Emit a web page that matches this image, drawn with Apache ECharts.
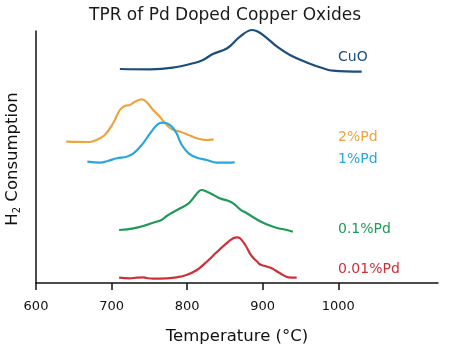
<!DOCTYPE html>
<html>
<head>
<meta charset="utf-8">
<script src="https://cdn.jsdelivr.net/npm/echarts@6/dist/echarts.min.js"></script>
<style>html,body{margin:0;padding:0;background:#fff}#c{width:450px;height:355px}</style>
</head>
<body>
<div id="c"></div>
<script>
var xTicks = [600, 700, 800, 900, 1000];

var cuoT = [711, 751, 781, 808, 821, 834, 853, 870, 886, 894, 906, 919, 936, 959, 980, 993, 1031];
var cuoY = [214, 213.7, 215.3, 219.7, 223, 229, 234.7, 246.3, 253, 251.3, 244.7, 236.3, 228, 220.3, 214.7, 212.3, 211.3];

var pd2T = [640, 671, 680, 691, 702, 711, 718, 724, 731, 740, 746, 755, 764, 771, 780, 791, 802, 813, 826, 835];
var pd2Y = [141.3, 141, 143, 148, 159.7, 173, 177.3, 178, 181.3, 183.7, 181.3, 173, 166.3, 159.7, 153.7, 151.3, 148, 144.7, 143, 143.7];

var pd1T = [668, 685, 696, 707, 720, 729, 740, 751, 760, 766, 773, 780, 786, 793, 802, 813, 826, 839, 852, 863];
var pd1Y = [121.3, 120.3, 122.3, 124.7, 126.3, 129.7, 138, 149.7, 158, 160.3, 159.7, 156.3, 149.7, 138, 129.7, 125.3, 123, 120.3, 120.3, 120.7];

var pd01T = [710, 729, 742, 755, 766, 773, 780, 791, 802, 808, 815, 819, 826, 835, 843, 854, 861, 870, 879, 892, 905, 918, 932, 940];
var pd01Y = [53, 54.7, 57, 60.3, 63, 67, 70.3, 74.7, 79.7, 84.7, 91.3, 93, 91.3, 88, 84.7, 82.3, 79.7, 73.7, 69.7, 63.7, 58.7, 55.3, 53, 51.3];

var pd001T = [710, 724, 733, 742, 746, 755, 773, 786, 799, 813, 826, 839, 852, 861, 866, 870, 877, 883, 888, 892, 896, 903, 912, 923, 934, 945];
var pd001Y = [5.3, 4.7, 5.3, 5.7, 5, 4.3, 4.7, 5.7, 8, 13, 21.3, 30.7, 39.7, 44.7, 45.7, 44.7, 38, 29.7, 24.7, 22, 18.7, 17, 14.7, 9.7, 5.7, 5.3];

var seriesNames = ['CuO', '2%Pd', '1%Pd', '0.1%Pd', '0.01%Pd'];
var colors = ['#1c4e7d', '#eca43f', '#29a7dd', '#1f9a57', '#cf3038'];
var labelY = [58, 138, 160, 230, 270];

function pairs(t, y) { return t.map(function (v, i) { return [v, y[i]]; }); }
var allData = [pairs(cuoT, cuoY), pairs(pd2T, pd2Y), pairs(pd1T, pd1Y), pairs(pd01T, pd01Y), pairs(pd001T, pd001Y)];

var chart = echarts.init(document.getElementById('c'));
var font = 'DejaVu Sans';
chart.setOption({
  animation: false,
  backgroundColor: '#fff',
  title: {
    text: 'TPR of Pd Doped Copper Oxides',
    left: 'center', top: 2,
    textStyle: { fontFamily: font, fontSize: 17, fontWeight: 'normal', color: '#1a1a1a' }
  },
  grid: { left: 36, right: 12, top: 31, bottom: 72 },
  xAxis: {
    type: 'value', min: 600, max: 1132, interval: 100,
    axisLine: { lineStyle: { color: '#111', width: 1.5 } },
    axisTick: { show: true, length: 7, lineStyle: { color: '#111', width: 1.5 }, customValues: xTicks },
    axisLabel: { customValues: xTicks, margin: 17, fontFamily: font, fontSize: 13, color: '#111',
      formatter: function (v) { return String(v); } },
    splitLine: { show: false },
    name: 'Temperature (°C)', nameLocation: 'middle', nameGap: 45,
    nameTextStyle: { fontFamily: font, fontSize: 16.5, color: '#111' }
  },
  yAxis: {
    type: 'value', min: 0, max: 252,
    axisLine: { show: true, lineStyle: { color: '#111', width: 1.5 } },
    axisTick: { show: false }, axisLabel: { show: false }, splitLine: { show: false }
  },
  series: allData.map(function (d, i) {
    return {
      name: seriesNames[i], type: 'line', data: d, smooth: 0.4, showSymbol: false, clip: false,
      lineStyle: { color: colors[i], width: 2.2 }, itemStyle: { color: colors[i] }
    };
  }),
  graphic: seriesNames.map(function (n, i) {
    return {
      type: 'text', left: 338, top: labelY[i] - 8,
      style: { text: n, fill: colors[i], font: '14px "' + font + '"' }
    };
  }).concat([{
    type: 'text', x: 13, y: 159, rotation: Math.PI / 2,
    style: {
      text: '{a|H}{b|2}{a| Consumption}', align: 'center', verticalAlign: 'middle',
      rich: {
        a: { fontFamily: font, fontSize: 16.5, fill: '#111', color: '#111' },
        b: { fontFamily: font, fontSize: 10, fill: '#111', color: '#111', padding: [9, 0, 0, 0] }
      }
    }
  }])
});
</script>
</body>
</html>
